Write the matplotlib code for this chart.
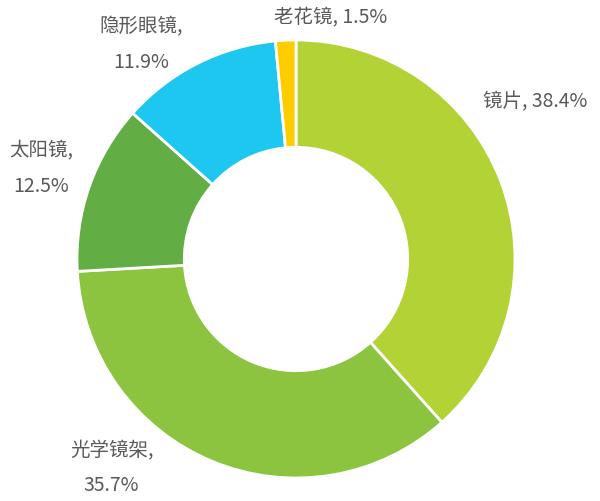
import numpy as np
import matplotlib.pyplot as plt

plt.rcParams['font.family'] = ['Noto Sans CJK SC', 'DejaVu Sans']

categories = ['镜片', '光学镜架', '太阳镜', '隐形眼镜', '老花镜']
values = [38.4, 35.7, 12.5, 11.9, 1.5]
colors = ['#B2D235', '#8CC43F', '#63AD45', '#1EC7F0', '#FFCC00']

# label positions in radius units, centre of donut at (0,0)
label_pos = {
    '镜片': (0.854, 0.721, 'left'),
    '光学镜架': (-0.842, -0.95, 'center'),
    '太阳镜': (-1.164, 0.416, 'center'),
    '隐形眼镜': (-0.708, 0.984, 'center'),
    '老花镜': (0.158, 1.105, 'center'),
}
two_lines = ['光学镜架', '太阳镜', '隐形眼镜']

W, H = 600, 502
cx, cy, R = 296, 260, 219
fig = plt.figure(figsize=(W / 100, H / 100), dpi=100)
ax = fig.add_axes([(cx - R) / W, (H - cy - R) / H, 2 * R / W, 2 * R / H])
ax.pie(values, colors=colors, startangle=90, counterclock=False, radius=1,
       wedgeprops=dict(width=0.49, edgecolor='white', linewidth=2))
ax.set_xlim(-1, 1)
ax.set_ylim(-1, 1)
ax.set_aspect('equal')
ax.axis('off')

for name, v in zip(categories, values):
    x, y, ha = label_pos[name]
    sep = ',\n' if name in two_lines else ', '
    ax.text(x, y, f'{name}{sep}{v}%', ha=ha, va='center', fontsize=14,
            color='#595959', linespacing=1.9, clip_on=False)

fig.savefig('out.png', dpi=100)
